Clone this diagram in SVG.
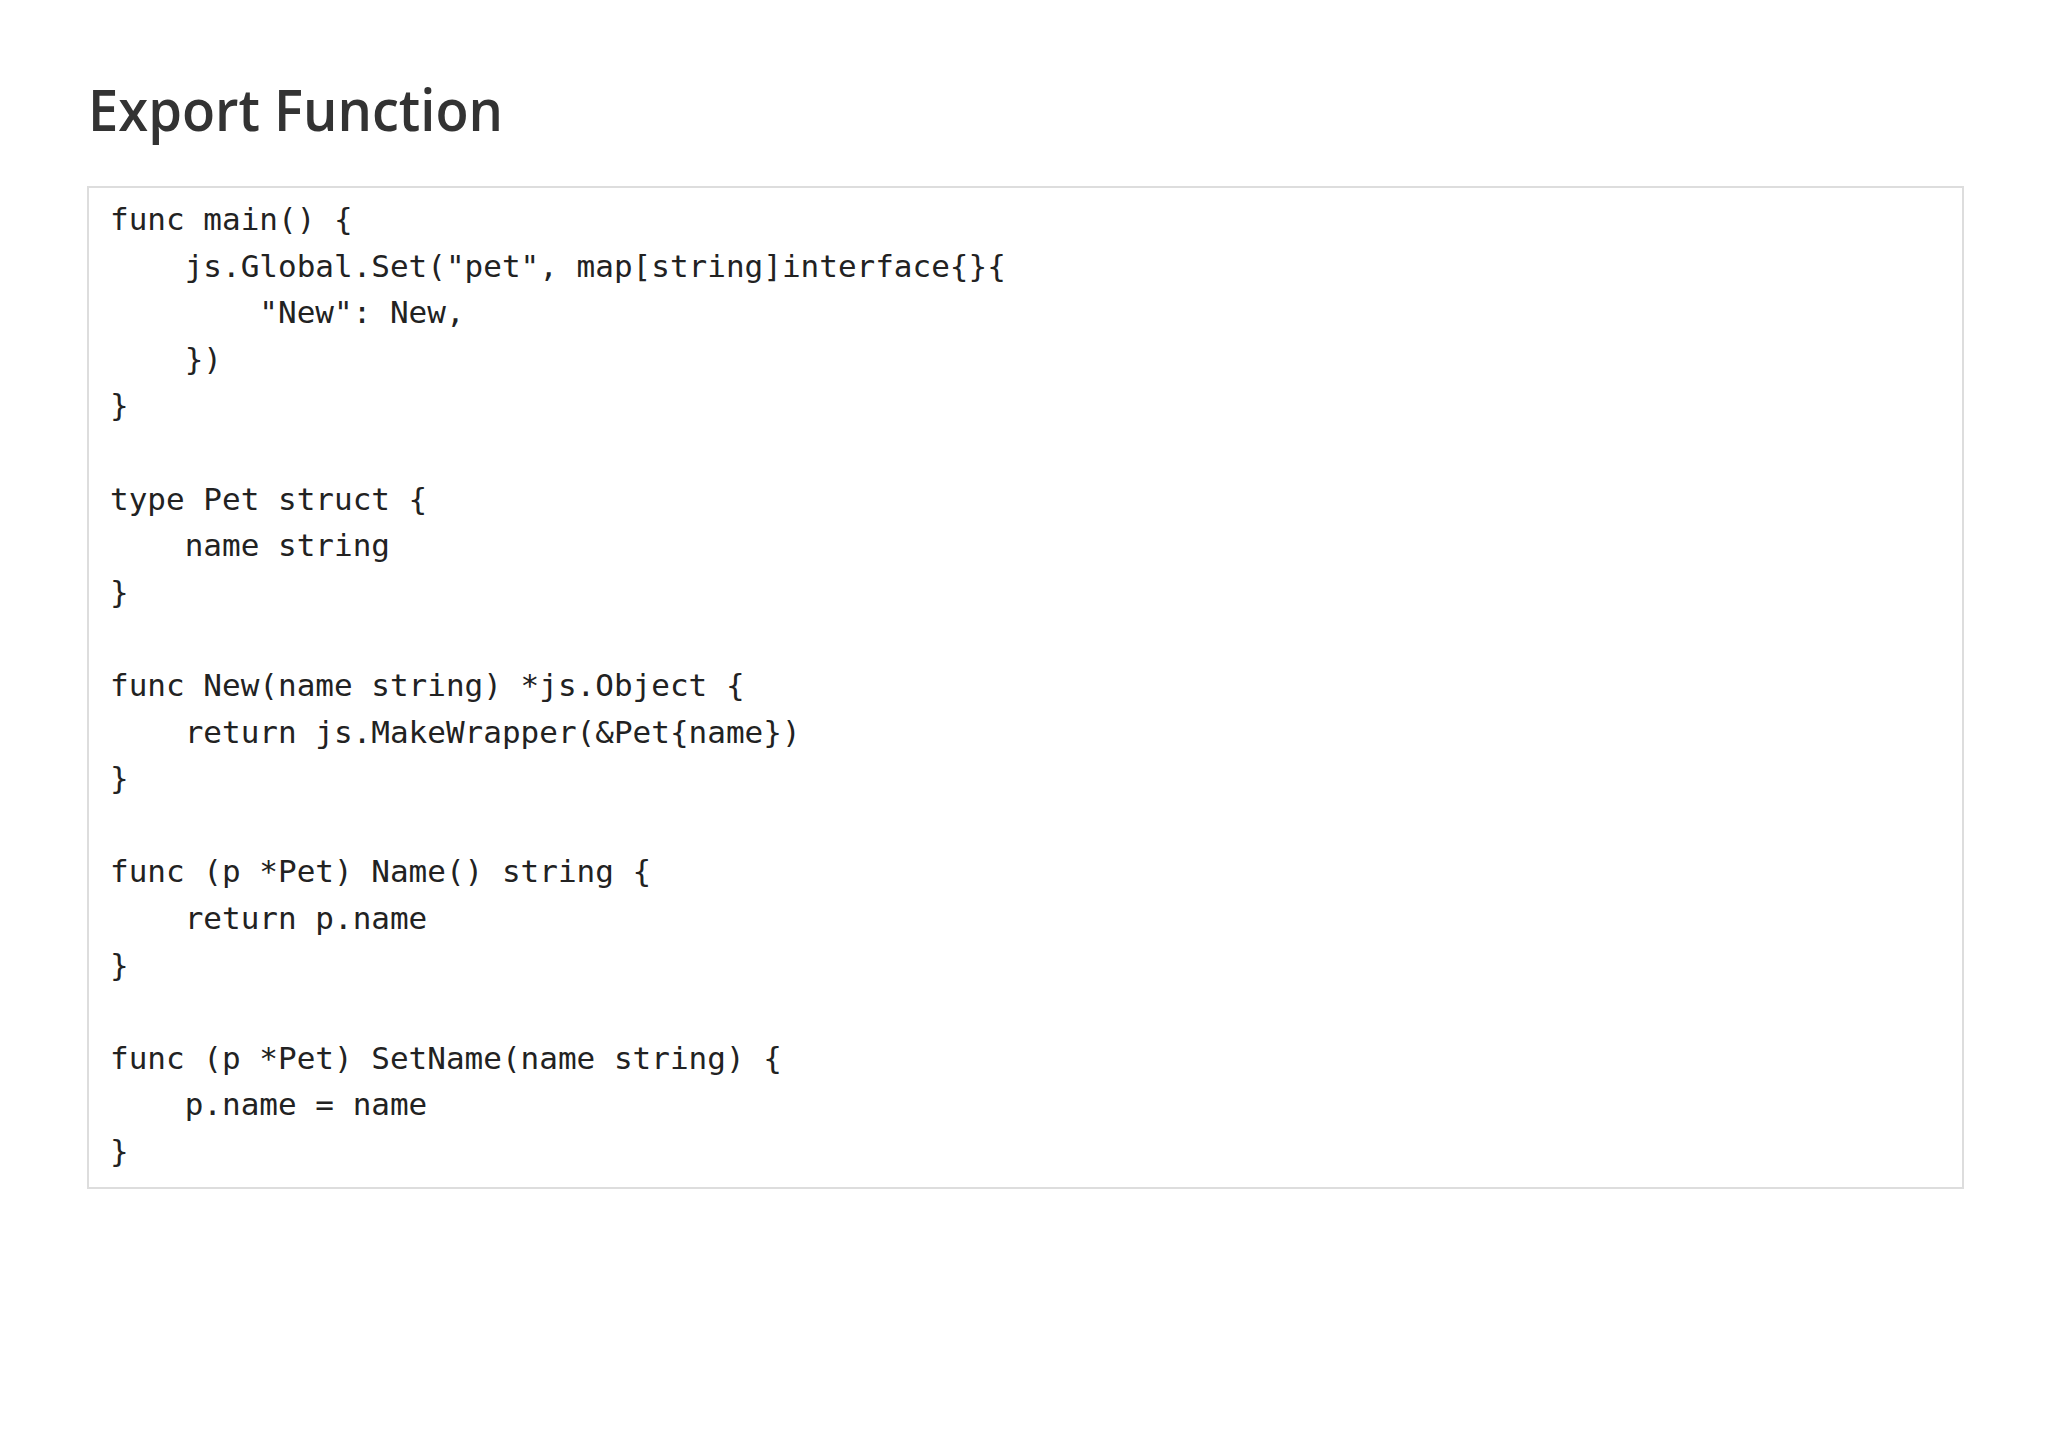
<svg xmlns="http://www.w3.org/2000/svg" width="2048" height="1447" viewBox="0 0 2048 1447">
<style>
.c{font-family:"DejaVu Sans Mono","Liberation Mono",monospace;font-size:31px;fill:#222;white-space:pre}
</style>
<rect width="2048" height="1447" fill="#fff"/>
<g id="title"><text x="88" y="131" font-family="Open Sans, sans-serif" font-weight="600" font-size="57" fill="#333" textLength="415" lengthAdjust="spacingAndGlyphs">Export Function</text></g>
<g id="code">
<rect x="88" y="187" width="1875" height="1001" fill="#fff" stroke="#ddd" stroke-width="2"/>
<text class="c" xml:space="preserve" x="110" y="230">func main() {</text>
<text class="c" xml:space="preserve" x="110" y="276.6">    js.Global.Set("pet", map[string]interface{}{</text>
<text class="c" xml:space="preserve" x="110" y="323.2">        "New": New,</text>
<text class="c" xml:space="preserve" x="110" y="369.8">    })</text>
<text class="c" xml:space="preserve" x="110" y="416.4">}</text>
<text class="c" xml:space="preserve" x="110" y="509.6">type Pet struct {</text>
<text class="c" xml:space="preserve" x="110" y="556.2">    name string</text>
<text class="c" xml:space="preserve" x="110" y="602.8">}</text>
<text class="c" xml:space="preserve" x="110" y="696">func New(name string) *js.Object {</text>
<text class="c" xml:space="preserve" x="110" y="742.6">    return js.MakeWrapper(&amp;Pet{name})</text>
<text class="c" xml:space="preserve" x="110" y="789.2">}</text>
<text class="c" xml:space="preserve" x="110" y="882.4">func (p *Pet) Name() string {</text>
<text class="c" xml:space="preserve" x="110" y="929">    return p.name</text>
<text class="c" xml:space="preserve" x="110" y="975.6">}</text>
<text class="c" xml:space="preserve" x="110" y="1068.8">func (p *Pet) SetName(name string) {</text>
<text class="c" xml:space="preserve" x="110" y="1115.4">    p.name = name</text>
<text class="c" xml:space="preserve" x="110" y="1162">}</text>
</g>
</svg>
